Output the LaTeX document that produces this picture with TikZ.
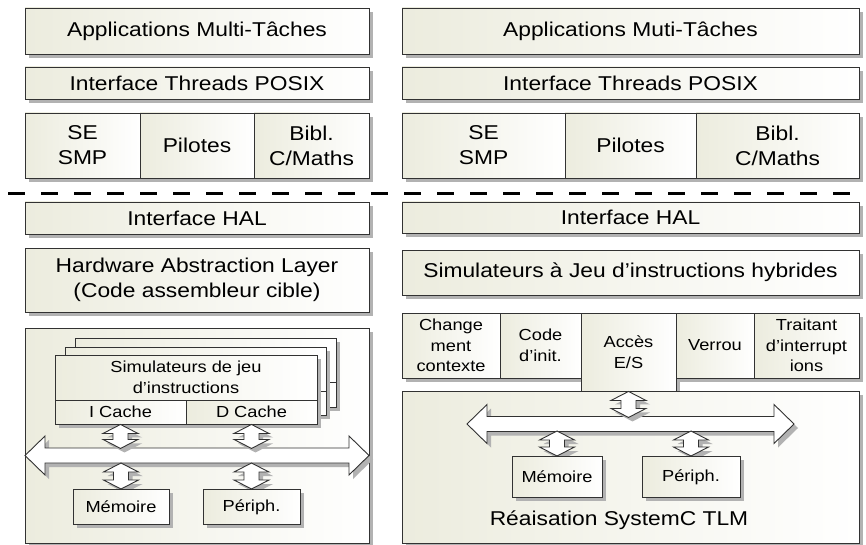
\documentclass[tikz,border=0pt]{standalone}
\usepackage{fontspec}
\setmainfont[FakeStretch=1.14]{Liberation Sans}
\usetikzlibrary{shadows,calc}
\definecolor{boxl}{RGB}{236,236,222}
\definecolor{shadc}{RGB}{178,178,178}
\definecolor{bordc}{RGB}{50,50,50}
\newcommand\bigf{\fontsize{20}{25}\selectfont}
\newcommand\smallf{\fontsize{16}{20.5}\selectfont}
\tikzset{
  box/.style={draw=bordc, line width=0.9pt, left color=boxl, right color=white,
    drop shadow={shadow xshift=4pt, shadow yshift=-4pt, fill=shadc, opacity=1},
    inner sep=0pt, align=center, font=\bigf, text=black},
  sbox/.style={box, font=\smallf},
  arrowshape/.style={draw=bordc, line width=0.9pt, fill=white},
  arrowshadow/.style={fill=shadc},
  sepline/.style={line width=3pt, dash pattern=on 17pt off 16pt, black},
  divline/.style={draw=bordc, line width=0.9pt},
}
% vertical double arrow: #1 top point, #2 length (px)
\newcommand\vda[2]{%
  \path[arrowshadow] let \p1=#1 in (\x1+4pt,\y1-4pt) -- ++(17.5pt,-9pt) -- ++(-10pt,0pt)
    -- ++(0pt,{-(#2-18)*1pt}) -- ++(10pt,0pt) -- ++(-17.5pt,-9pt) -- ++(-17.5pt,9pt)
    -- ++(10pt,0pt) -- ++(0pt,{(#2-18)*1pt}) -- ++(-10pt,0pt) -- cycle;
  \path[arrowshape] let \p1=#1 in (\x1,\y1) -- ++(17.5pt,-9pt) -- ++(-10pt,0pt)
    -- ++(0pt,{-(#2-18)*1pt}) -- ++(10pt,0pt) -- ++(-17.5pt,-9pt) -- ++(-17.5pt,9pt)
    -- ++(10pt,0pt) -- ++(0pt,{(#2-18)*1pt}) -- ++(-10pt,0pt) -- cycle;
}
% horizontal bus arrow: #1 left tip x, #2 centre y, #3 right tip x
\newcommand\hbus[3]{%
  \path[arrowshadow, shift={(4,4)}] (#1,#2) -- (#1+20,#2-19.5) -- (#1+20,#2-7.5) -- (#3-20,#2-7.5)
    -- (#3-20,#2-19.5) -- (#3,#2) -- (#3-20,#2+19.5) -- (#3-20,#2+7.5) -- (#1+20,#2+7.5)
    -- (#1+20,#2+19.5) -- cycle;
  \path[arrowshape] (#1,#2) -- (#1+20,#2-19.5) -- (#1+20,#2-7.5) -- (#3-20,#2-7.5)
    -- (#3-20,#2-19.5) -- (#3,#2) -- (#3-20,#2+19.5) -- (#3-20,#2+7.5) -- (#1+20,#2+7.5)
    -- (#1+20,#2+19.5) -- cycle;
}
\begin{document}
\begin{tikzpicture}[x=1pt,y=-1pt]
\useasboundingbox[fill=white] (0,0) rectangle (866,545);

% ---------------- left column ----------------
\node[box, minimum width=344pt, minimum height=46pt] (lapp) at (197,31) {Applications Multi-Tâches};
\node[box, minimum width=344pt, minimum height=32pt] (lpos) at (197,83) {Interface Threads POSIX};
\node[box, minimum width=115pt, minimum height=65pt] (lse) at (82.5,145.5) {SE\\SMP};
\node[box, minimum width=114pt, minimum height=65pt] (lpil) at (197,145.5) {Pilotes};
\node[box, minimum width=115pt, minimum height=65pt] (lbib) at (311.5,145.5) {Bibl.\\C/Maths};

% ---------------- right column ----------------
\node[box, minimum width=457pt, minimum height=46pt] (rapp) at (630.5,31) {Applications Muti-Tâches};
\node[box, minimum width=457pt, minimum height=32pt] (rpos) at (630.5,83) {Interface Threads POSIX};
\node[box, minimum width=163pt, minimum height=65pt] (rse) at (483.5,145.5) {SE\\SMP};
\node[box, minimum width=131pt, minimum height=65pt] (rpil) at (630.5,145.5) {Pilotes};
\node[box, minimum width=163pt, minimum height=65pt] (rbib) at (777.5,145.5) {Bibl.\\C/Maths};

% separator
\coordinate (sepL) at (8,194);
\coordinate (sepR) at (866,194);
\draw[sepline] (sepL) -- (sepR);

% ---------------- left lower part ----------------
\node[box, minimum width=344pt, minimum height=32pt] (lhal) at (197,218) {Interface HAL};
\node[box, minimum width=344pt, minimum height=64pt] (lhw) at (197,280) {Hardware Abstraction Layer\\(Code assembleur cible)};
\node[box, minimum width=344pt, minimum height=215pt] (lbig) at (197,435.5) {};

\node[box, minimum width=261pt, minimum height=69pt] (lb3) at (205.5,372.5) {};
\draw[divline] ($(lb3.north west)+(0,45)$) -- ($(lb3.north east)+(0,45)$);
\node[box, minimum width=261pt, minimum height=68pt] (lb2) at (195.5,381) {};
\draw[divline] ($(lb2.north west)+(0,45)$) -- ($(lb2.north east)+(0,45)$);
\node[sbox, minimum width=262pt, minimum height=45pt] (lsim) at (186,377.5) {Simulateurs de jeu\\d’instructions};
\node[sbox, minimum width=131pt, minimum height=24pt] (lic) at (120.5,412) {I Cache};
\node[sbox, minimum width=131pt, minimum height=24pt] (ldc) at (251.5,412) {D Cache};

\hbus{25}{455.5}{369}
\coordinate (lmemN) at (121,489);
\coordinate (lperN) at (251.5,489);
\vda{(lic.south)}{24}
\vda{(ldc.south)}{24}
\vda{($(lmemN)+(0,-26)$)}{26}
\vda{($(lperN)+(0,-26)$)}{26}
\node[sbox, anchor=north, minimum width=96pt, minimum height=35pt] (lmem) at (lmemN) {Mémoire};
\node[sbox, anchor=north, minimum width=97pt, minimum height=35pt] (lper) at (lperN) {Périph.};

% ---------------- right lower part ----------------
\node[box, minimum width=457pt, minimum height=31pt] (rhal) at (630.5,217.5) {Interface HAL};
\node[box, minimum width=457pt, minimum height=45pt] (rhyb) at (630.5,272.5) {Simulateurs à Jeu d’instructions hybrides};

\node[sbox, minimum width=98pt, minimum height=65pt] (rchg) at (451,345.5) {Change\\ment\\contexte};
\node[sbox, minimum width=81pt, minimum height=65pt] (rcode) at (540.5,345.5) {Code\\d’init.};
\node[sbox, minimum width=95pt, minimum height=78pt] (racc) at (628.5,352) {Accès\\E/S};
\node[sbox, minimum width=78pt, minimum height=65pt] (rver) at (715,345.5) {Verrou};
\node[sbox, minimum width=105pt, minimum height=65pt] (rtrt) at (806.5,345.5) {Traitant\\d’interrupt\\ions};
\node[box, minimum width=457pt, minimum height=152pt] (rbig) at (630.5,467) {};

\hbus{467}{424}{794}
\coordinate (rmemN) at (557,456);
\coordinate (rperN) at (691,456);
\vda{(racc.south)}{26}
\vda{($(rmemN)+(0,-25)$)}{25}
\vda{($(rperN)+(0,-25)$)}{25}
\node[sbox, anchor=north, minimum width=90pt, minimum height=41pt] (rmem) at (rmemN) {Mémoire};
\node[sbox, anchor=north, minimum width=98pt, minimum height=41pt] (rper) at (rperN) {Périph.};
\node[font=\bigf, inner sep=0pt] (rlab) at (619,520) {Réaisation SystemC TLM};
\end{tikzpicture}
\end{document}
